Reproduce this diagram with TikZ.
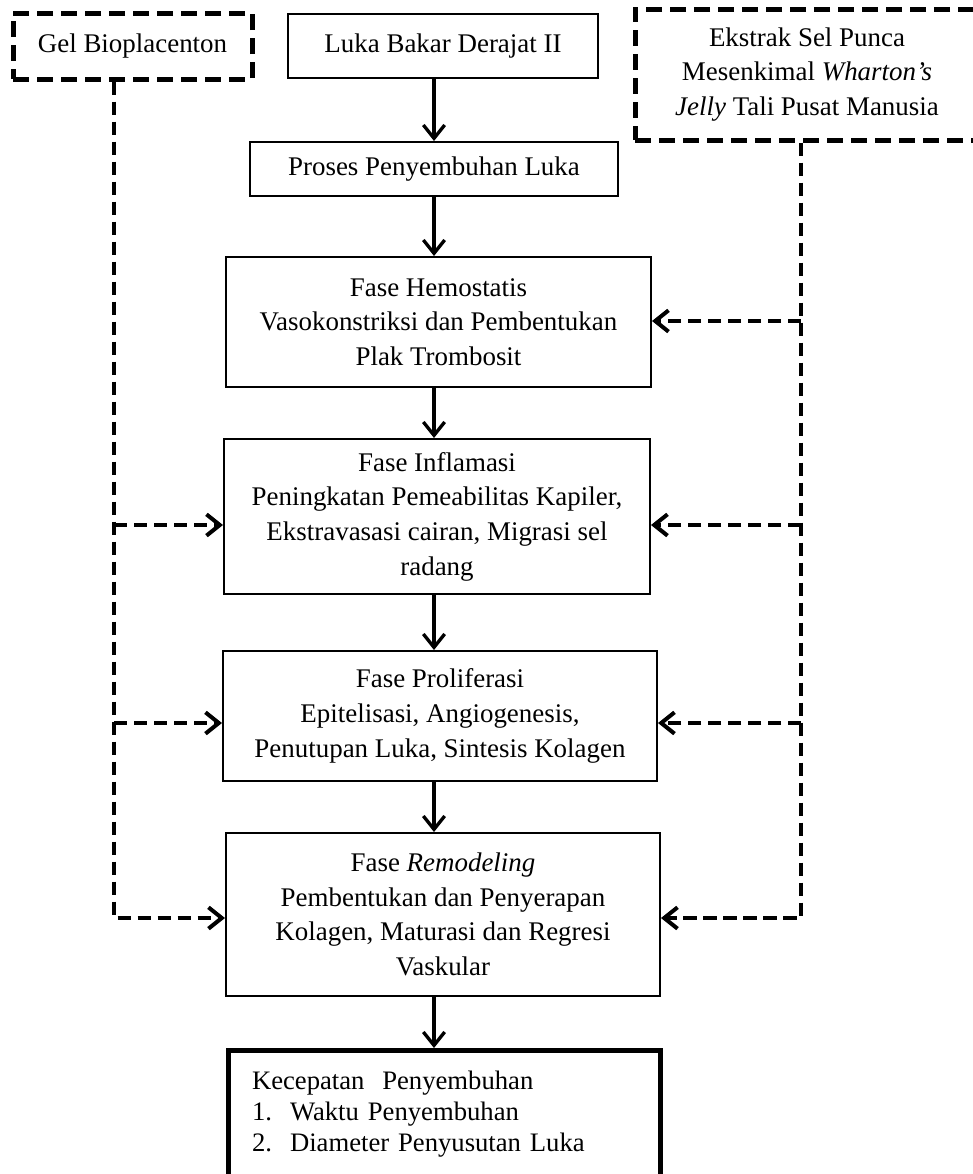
\documentclass[tikz,border=0pt]{standalone}
\usepackage{fontspec}
\setmainfont{Liberation Serif}
\usetikzlibrary{arrows.meta}

\begin{document}
\begin{tikzpicture}[x=0.75pt,y=-0.75pt,
	font=\fontsize{20.2}{26}\selectfont,
	kotak/.style={draw,line width=1.5pt,align=center,inner sep=0pt},
	sumber/.style={draw,line width=3.75pt,dash pattern=on 12pt off 6pt,align=center,inner sep=0pt},
	panah/.style={line width=2.5pt,-{Straight Barb[length=10pt,width=16pt]}},
	putus/.style={line width=3pt,dash pattern=on 10pt off 5pt,-{Straight Barb[length=10pt,width=16pt]}}]
	\useasboundingbox (0,0) rectangle (973,1174);
	% sumber perlakuan
	\node[sumber,minimum width=179.25pt,minimum height=49.5pt] (gel) at (132.5,46) {Gel Bioplacenton};
	\node[sumber,minimum width=258pt,minimum height=98.25pt] (ekstrak) at (807,74.5) {Ekstrak Sel Punca\\ Mesenkimal \textit{Wharton’s}\\ \textit{Jelly} Tali Pusat Manusia};
	% alur penyembuhan
	\node[kotak,minimum width=232.5pt,minimum height=48pt] (luka) at (443,46) {Luka Bakar Derajat II};
	\node[kotak,minimum width=276pt,minimum height=40.5pt] (proses) at (434,169) {Proses Penyembuhan Luka};
	\node[kotak,minimum width=318.75pt,minimum height=97.5pt] (hemo) at (438.5,322) {Fase Hemostatis\\ Vasokonstriksi dan Pembentukan\\ Plak Trombosit};
	\node[kotak,minimum width=319.5pt,minimum height=116.25pt] (infl) at (437,516.5) {Fase Inflamasi\\ Peningkatan Pemeabilitas Kapiler,\\ Ekstravasasi cairan, Migrasi sel\\ radang};
	\node[kotak,minimum width=325.5pt,minimum height=97.5pt] (prol) at (440,716) {Fase Proliferasi\\ Epitelisasi, Angiogenesis,\\ Penutupan Luka, Sintesis Kolagen};
	\node[kotak,minimum width=325.5pt,minimum height=122.25pt] (remo) at (443,914.5) {Fase \textit{Remodeling}\\ Pembentukan dan Penyerapan\\ Kolagen, Maturasi dan Regresi\\ Vaskular};
	\node[draw,line width=3.75pt,anchor=north,text width=288pt,inner xsep=18pt,minimum height=96pt,align=left,font=\fontsize{20}{23.25}\selectfont] (kec) at (444,1048) {Kecepatan\ \ Penyembuhan\\ \makebox[28.5pt][l]{1.}Waktu Penyembuhan\\ \makebox[28.5pt][l]{2.}Diameter Penyusutan Luka};
	
	\draw[panah] (proses.north |- luka.south) -- (proses.north);
	\draw[panah] (proses.south) -- (proses.south |- hemo.north);
	\draw[panah] (proses.south |- hemo.south) -- (proses.south |- infl.north);
	\draw[panah] (proses.south |- infl.south) -- (proses.south |- prol.north);
	\draw[panah] (proses.south |- prol.south) -- (proses.south |- remo.north);
	\draw[panah] (proses.south |- remo.south) -- (proses.south |- kec.north);
	
	% garis putus-putus
	\coordinate (kiri) at (114,918);
	\coordinate (kanan) at (801,918);
	\coordinate (ki1) at (114,525);
	\coordinate (ki2) at (114,723);
	\coordinate (ka0) at (801,321);
	\coordinate (ka1) at (801,525);
	\coordinate (ka2) at (801,723);
	\draw[putus] (kiri |- gel.south) -- (kiri) -- (kiri -| remo.west);
	\draw[putus] (kanan |- ekstrak.south) -- (kanan) -- (kanan -| remo.east);
	\draw[putus] (ki1) -- (ki1 -| infl.west);
	\draw[putus] (ki2) -- (ki2 -| prol.west);
	\draw[putus] (ka0) -- (ka0 -| hemo.east);
	\draw[putus] (ka1) -- (ka1 -| infl.east);
	\draw[putus] (ka2) -- (ka2 -| prol.east);
	
\end{tikzpicture}
\end{document}
